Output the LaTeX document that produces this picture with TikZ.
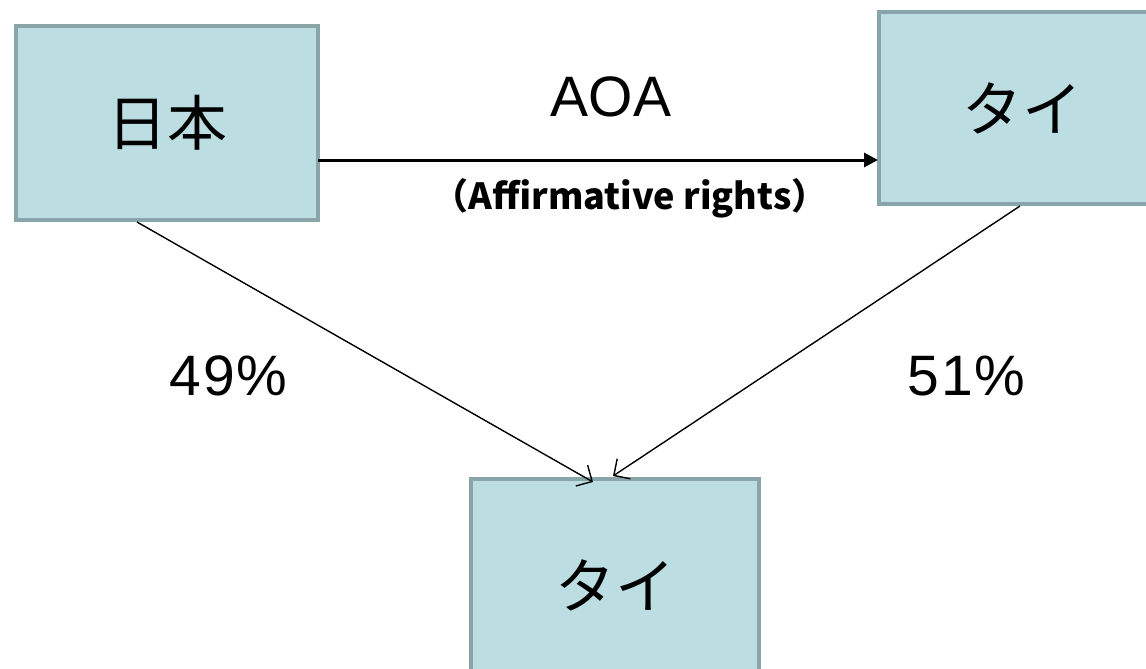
\documentclass[tikz,border=0pt]{standalone}
\usepackage{fontspec}
\setmainfont{Noto Sans CJK JP}
\newfontfamily\latinfont{Liberation Sans}
\usetikzlibrary{arrows.meta,calc}
\definecolor{boxfill}{HTML}{BCDEE3}
\definecolor{boxline}{HTML}{8AA5A8}
\tikzset{
  entity/.style={draw=boxline, fill=boxfill, line width=4pt, anchor=north west, inner sep=0pt, font=\fontsize{60}{62}\selectfont},
  lbl/.style={font=\latinfont\fontsize{57}{60}\selectfont, inner sep=0pt},
  small/.style={font=\bfseries\fontsize{36}{40}\selectfont, inner sep=0pt},
  thin/.style={line width=1.4pt, -{Straight Barb[length=12pt,width=24pt,line width=1.4pt]}},
  thick/.style={line width=3pt, -{Triangle[length=14pt,width=14pt]}}
}
\begin{document}
\begin{tikzpicture}[x=1pt,y=-1pt]
\useasboundingbox (0,0) rectangle (1146,669);
\clip (0,0) rectangle (1146,669);
\node[entity, minimum width=302pt, minimum height=194pt] (nihon) at (14,24) {日本};
\node[entity, minimum width=286pt, minimum height=192pt] (taiA) at (877,10) {タイ};
\node[entity, minimum width=288pt, minimum height=212pt] (taiB) at (469,477) {タイ};
\node[lbl] (aoa) at (611,97) {AOA};
\node[lbl] (p49) at (227,376) {\hspace{3pt}4\hspace{2pt}9\hspace{2pt}\%};
\node[lbl] (p51) at (965,376) {\hspace{3pt}5\hspace{2pt}1\hspace{2pt}\%};
\node[small] (aff) at (630,198) {（Affirmative rights）};
\coordinate (s1) at (137,222);
\coordinate (e1) at (593,482);
\coordinate (s2) at (1020,206);
\coordinate (e2) at (613,476);
\coordinate (h1) at (318,160);
\coordinate (h2) at (878,160);
\draw[thick] (h1) -- (h2);
\draw[thin] (s1) -- (e1);
\draw[thin] (s2) -- (e2);
\end{tikzpicture}
\end{document}
